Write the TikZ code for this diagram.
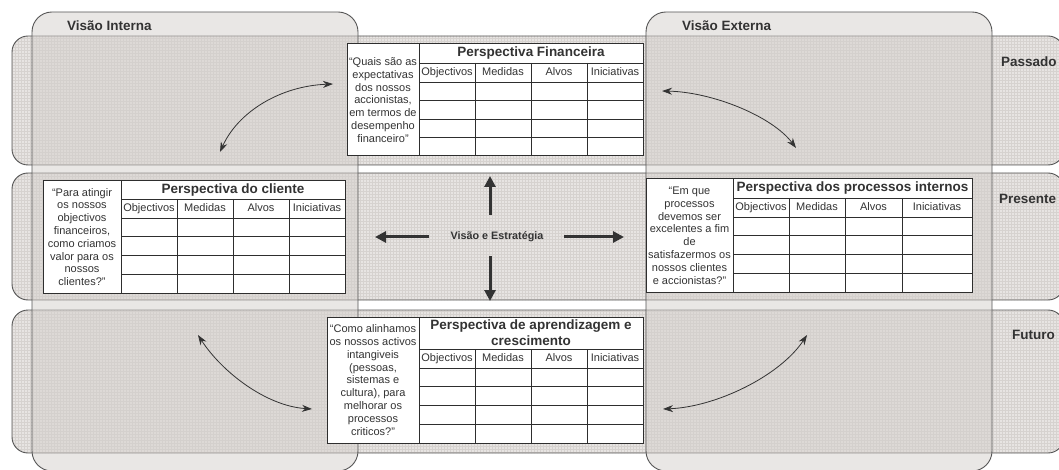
\documentclass[tikz,border=0pt]{standalone}
\usepackage{fontspec}
\setmainfont{Liberation Sans}
\usetikzlibrary{arrows.meta,patterns}

\definecolor{rowbase}{HTML}{E7E4E2}
\definecolor{rowgrid}{HTML}{D6D2CF}
\definecolor{colfill}{HTML}{D4CFCC}
\definecolor{edge}{HTML}{555555}
\definecolor{ink}{HTML}{333333}
\definecolor{tblline}{HTML}{2E2E2E}

\tikzset{
  band/.style={draw=edge, line width=0.9pt, rounded corners=16pt,
    preaction={fill=rowbase}, pattern=grid, pattern color=rowgrid},
  column/.style={draw=edge, line width=0.9pt, rounded corners=20pt,
    fill=colfill, fill opacity=0.5},
  tblgrid/.style={draw=tblline, line width=0.8pt},
  tblframe/.style={draw=tblline, line width=1pt},
  qtext/.style={font=\fontsize{11}{12.8}\selectfont, align=center, text=ink, inner sep=0pt},
  ttext/.style={font=\fontsize{13.5}{15.7}\selectfont\bfseries, align=center, text=ink, inner sep=0pt},
  htext/.style={font=\fontsize{11}{13}\selectfont, text=ink, inner sep=0pt,
    text height=8pt, text depth=2.3pt},
  sidelabel/.style={font=\fontsize{13.5}{16}\selectfont\bfseries, text=ink, inner sep=0pt, anchor=west},
  cycle arrow/.style={draw=ink, line width=0.8pt,
    {Stealth[length=10pt,width=7pt]}-{Stealth[length=10pt,width=7pt]}},
  strategy arrow/.style={draw=ink, line width=3pt,
    -{Triangle[length=11pt,width=11pt]}},
}

% #1 name, #2 left, #3 question divider, #4 right, #5 top,
% #6 title bottom, #7 header bottom, #8 bottom, #9 columns x1/x2/label
\newcommand\bsctable[9]{%
  \fill[white] (#2,#5) rectangle (#4,#8);
  \foreach \xa/\xb/\lab [count=\i] in {#9}{%
    \node[htext] (#1-h\i) at ({(\xa+\xb)/2},{(#6+#7)/2}) {\lab};
    \draw[tblgrid] (\xa,#6) -- (\xa,#8);
  }
  \foreach \k in {0,1,2,3}{%
    \draw[tblgrid] (#3,{#7+\k*(#8-#7)/4}) -- (#4,{#7+\k*(#8-#7)/4});
  }
  \draw[tblgrid] (#3,#6) -- (#4,#6);
  \draw[tblgrid] (#3,#5) -- (#3,#8);
  \draw[tblframe] (#2,#5) rectangle (#4,#8);
  \coordinate (#1-q) at ({(#2+#3)/2},{(#5+#8)/2});
  \coordinate (#1-t) at ({(#3+#4)/2},{(#5+#6)/2});
}

\begin{document}
\begin{tikzpicture}[x=1pt,y=-1pt]
\useasboundingbox (0,0) rectangle (1059,470);
\clip (0,0) rectangle (1059,470);

% time bands
\path[band] (12,36) rectangle (1064,165);
\path[band] (12,173) rectangle (1064,300);
\path[band] (12,310) rectangle (1064,453);

% internal / external view columns
\path[column] (32,12) rectangle (358,471);
\path[column] (646,12) rectangle (992,471);

\node[sidelabel] (vint) at (67,26) {Visão Interna};
\node[sidelabel] (vext) at (682,26) {Visão Externa};
\node[sidelabel] (past) at (1001,62) {Passado};
\node[sidelabel] (pres) at (999,199) {Presente};
\node[sidelabel] (fut) at (1012,335) {Futuro};

% perspective tables
\bsctable{fin}{347}{419}{643}{44}{63}{82}{156}%
  {419/475/Objectivos,475/531/Medidas,531/587/Alvos,587/643/Iniciativas}
\node[qtext] (fin-quest) at (fin-q) {“Quais são as\\expectativas\\dos nossos\\accionistas,\\em termos de\\desempenho\\financeiro”};
\node[ttext] (fin-title) at (fin-t) {Perspectiva Financeira};

\bsctable{cli}{43}{121}{345}{181}{199}{218}{293}%
  {121/177/Objectivos,177/233/Medidas,233/289/Alvos,289/345/Iniciativas}
\node[qtext] (cli-quest) at (cli-q) {“Para atingir\\os nossos\\objectivos\\financeiros,\\como criamos\\valor para os\\nossos\\clientes?”};
\node[ttext] (cli-title) at (cli-t) {Perspectiva do cliente};

\bsctable{proc}{646}{733}{972}{179}{198}{217}{292}%
  {733/789/Objectivos,789/845/Medidas,845/902/Alvos,902/972/Iniciativas}
\node[qtext] (proc-quest) at (proc-q) {“Em que\\processos\\devemos ser\\excelentes a fim\\de\\satisfazermos os\\nossos clientes\\e accionistas?”};
\node[ttext] (proc-title) at (proc-t) {Perspectiva dos processos internos};

\bsctable{learn}{327}{419}{643}{317}{349}{368}{443}%
  {419/475/Objectivos,475/531/Medidas,531/587/Alvos,587/643/Iniciativas}
\node[qtext] (learn-quest) at (learn-q) {“Como alinhamos\\os nossos activos\\intangiveis\\(pessoas,\\sistemas e\\cultura), para\\melhorar os\\processos\\criticos?”};
\node[ttext] (learn-title) at (learn-t) {Perspectiva de aprendizagem e\\crescimento};

% vision and strategy hub
\node[font=\fontsize{10.8}{13}\selectfont\bfseries, text=ink, inner sep=0pt] (vis) at (497,237) {Visão e Estratégia};
\coordinate (up0) at (490,215);   \coordinate (up1) at (490,176);
\coordinate (dn0) at (490,256);   \coordinate (dn1) at (490,301);
\coordinate (lt0) at (429,237);   \coordinate (lt1) at (375,237);
\coordinate (rt0) at (564,237);   \coordinate (rt1) at (624,237);
\draw[strategy arrow] (up0) -- (up1);
\draw[strategy arrow] (dn0) -- (dn1);
\draw[strategy arrow] (lt0) -- (lt1);
\draw[strategy arrow] (rt0) -- (rt1);

% cause-and-effect cycle
\coordinate (c1a) at (333,84);  \coordinate (c1b) at (220,152);
\coordinate (c2a) at (662,91);  \coordinate (c2b) at (796,148);
\coordinate (c3a) at (198,335); \coordinate (c3b) at (312,409);
\coordinate (c4a) at (663,409); \coordinate (c4b) at (807,335);
\draw[cycle arrow] (c1b) .. controls (238,112) and (280,86) .. (c1a);
\draw[cycle arrow] (c2a) .. controls (712,92) and (772,116) .. (c2b);
\draw[cycle arrow] (c3a) .. controls (222,372) and (266,406) .. (c3b);
\draw[cycle arrow] (c4a) .. controls (716,407) and (780,376) .. (c4b);
\end{tikzpicture}
\end{document}
